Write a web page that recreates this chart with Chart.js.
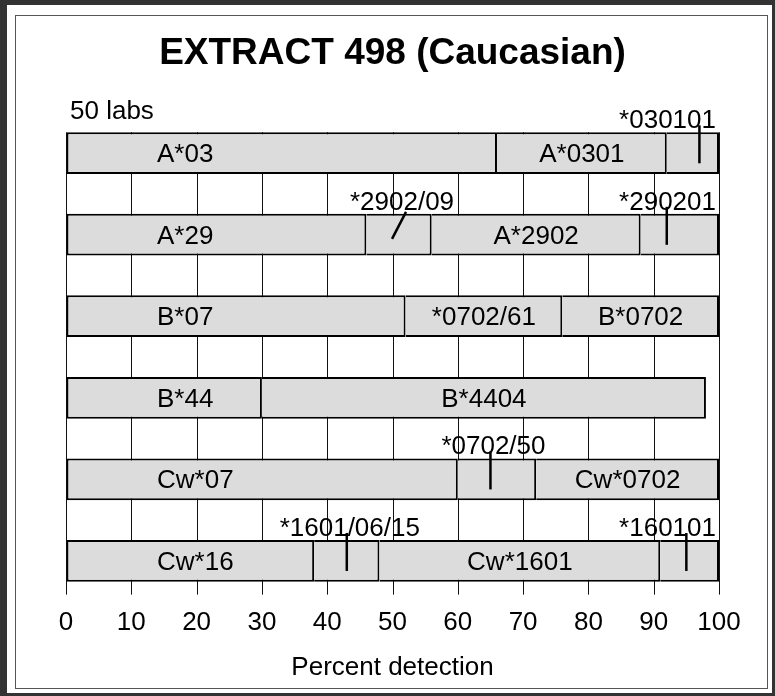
<!DOCTYPE html>
<html><head><meta charset="utf-8">
<script src="https://cdn.jsdelivr.net/npm/chart.js@4.4.1/dist/chart.umd.min.js"></script>
<style>
html,body{margin:0;padding:0;background:#fff;}
#wrap{position:relative;width:775px;height:696px;overflow:hidden;background:#fff;}
canvas{position:absolute;left:0;top:0;}
#outer{position:absolute;left:0;top:0;width:775px;height:696px;box-sizing:border-box;border-style:solid;border-color:#333;border-width:5px 3px 3px 7px;pointer-events:none;}
#inner{position:absolute;left:15px;top:15px;width:753px;height:674px;box-sizing:border-box;border:1.5px solid #555;pointer-events:none;}
</style></head>
<body><div id="wrap"><canvas id="c" width="775" height="696"></canvas><div id="outer"></div><div id="inner"></div></div>
<script>
// ---- data (percent detection boundaries per locus) ----
const rowNames = ['A*03', 'A*29', 'B*07', 'B*44', 'Cw*07', 'Cw*16'];
const a03Bounds  = [0, 66, 92, 100];
const a03Labels  = ['A*03', 'A*0301', '*030101'];
const a29Bounds  = [0, 46, 56, 88, 100];
const a29Labels  = ['A*29', '*2902/09', 'A*2902', '*290201'];
const b07Bounds  = [0, 52, 76, 100];
const b07Labels  = ['B*07', '*0702/61', 'B*0702'];
const b44Bounds  = [0, 30, 98];
const b44Labels  = ['B*44', 'B*4404'];
const cw07Bounds = [0, 60, 72, 100];
const cw07Labels = ['Cw*07', '*0702/50', 'Cw*0702'];
const cw16Bounds = [0, 38, 48, 91, 100];
const cw16Labels = ['Cw*16', '*1601/06/15', 'Cw*1601', '*160101'];
// percent value marked by the pointer line of each small (outside-labelled) segment
const pointerNames  = ['*030101', '*2902/09', '*290201', '*0702/50', '*1601/06/15', '*160101'];
const pointerValues = [97, 51, 92, 65, 43, 95];
const xTicks = [0, 10, 20, 30, 40, 50, 60, 70, 80, 90, 100];
const titleText = 'EXTRACT 498 (Caucasian)';
const noteText = '50 labs';
const xTitle = 'Percent detection';

const rowBounds = [a03Bounds, a29Bounds, b07Bounds, b44Bounds, cw07Bounds, cw16Bounds];
const rowLabels = [a03Labels, a29Labels, b07Labels, b44Labels, cw07Labels, cw16Labels];
const maxSeg = Math.max(...rowBounds.map(b => b.length - 1));

const FONT = 'Liberation Sans, Arial, sans-serif';
const datasets = [];
for (let k = 0; k < maxSeg; k++) {
  datasets.push({
    data: rowBounds.map(b => (k + 1 < b.length ? [b[k], b[k + 1]] : null)),
    backgroundColor: '#dcdcdc',
    borderColor: '#000',
    borderWidth: { top: 2, bottom: 2, left: k === 0 ? 2 : 0, right: 2 },
    borderSkipped: false,
    grouped: false,
    barPercentage: 0.512,
    categoryPercentage: 1
  });
}

const deco = {
  id: 'deco',
  beforeDatasetsDraw(chart) {
    const ctx = chart.ctx, xs = chart.scales.x, ca = chart.chartArea;
    const el = chart.getDatasetMeta(0).data[0];
    const top = el.y - el.height / 2;
    ctx.save();
    ctx.strokeStyle = '#111';
    ctx.lineWidth = 1;
    xTicks.forEach(v => {
      const x = Math.round(xs.getPixelForValue(v)) + 0.5;
      ctx.beginPath(); ctx.moveTo(x, top); ctx.lineTo(x, ca.bottom - 7); ctx.stroke();
    });
    ctx.fillStyle = '#000';
    ctx.font = '26px ' + FONT;
    ctx.textAlign = 'left';
    ctx.textBaseline = 'alphabetic';
    ctx.fillText(noteText, ca.left + 4, top - 13);
    ctx.restore();
  },
  afterDatasetsDraw(chart) {
    const ctx = chart.ctx, xs = chart.scales.x, ca = chart.chartArea;
    ctx.save();
    ctx.fillStyle = '#000';
    ctx.strokeStyle = '#000';
    ctx.font = '26px ' + FONT;
    rowBounds.forEach((b, r) => {
      for (let k = 0; k + 1 < b.length; k++) {
        const el = chart.getDatasetMeta(k).data[r];
        const top = el.y - el.height / 2;
        const x1 = xs.getPixelForValue(b[k]), x2 = xs.getPixelForValue(b[k + 1]);
        const label = rowLabels[r][k];
        if (b[k + 1] - b[k] < 15) {
          const pi = pointerNames.indexOf(label);
          const px = pi >= 0 ? xs.getPixelForValue(pointerValues[pi]) : (x1 + x2) / 2;
          const cx = px + 3;
          const w = ctx.measureText(label).width;
          ctx.textBaseline = 'alphabetic';
          if (cx + w / 2 > ca.right - 3) { ctx.textAlign = 'right'; ctx.fillText(label, ca.right - 3, top - 4); }
          else { ctx.textAlign = 'center'; ctx.fillText(label, cx, top - 4); }
          ctx.lineWidth = 2.5;
          ctx.beginPath();
          if (label === '*2902/09') { ctx.moveTo(px + 7, top - 2); ctx.lineTo(px - 7, top + 25); }
          else { ctx.moveTo(px, top - 7); ctx.lineTo(px, top + 31); }
          ctx.stroke();
        } else {
          ctx.textBaseline = 'middle';
          if (k === 0) { ctx.textAlign = 'left'; ctx.fillText(label, ca.left + 91, el.y + 2); }
          else { ctx.textAlign = 'center'; ctx.fillText(label, (x1 + x2) / 2, el.y + 2); }
        }
      }
    });
    ctx.restore();
  }
};

new Chart(document.getElementById('c'), {
  type: 'bar',
  data: { labels: rowNames, datasets },
  options: {
    indexAxis: 'y',
    responsive: false,
    animation: false,
    devicePixelRatio: 1,
    layout: { padding: { left: 66, right: 56, top: 0, bottom: 13 } },
    plugins: {
      legend: { display: false },
      tooltip: { enabled: false },
      title: {
        display: true, text: titleText, color: '#000',
        font: { family: FONT, size: 37, weight: 'bold' },
        padding: { top: 32, bottom: 36 }
      }
    },
    scales: {
      x: {
        type: 'linear', min: 0, max: 100,
        afterBuildTicks: s => { s.ticks = xTicks.map(v => ({ value: v })); },
        ticks: { color: '#000', font: { family: FONT, size: 26 }, padding: 6 },
        grid: { display: true, drawOnChartArea: false, drawTicks: false },
        border: { display: false },
        title: { display: true, text: xTitle, color: '#000', font: { family: FONT, size: 26 }, padding: { top: 7, bottom: 0 } }
      },
      y: { display: false, offset: true }
    }
  },
  plugins: [deco]
});
</script>
</body></html>
